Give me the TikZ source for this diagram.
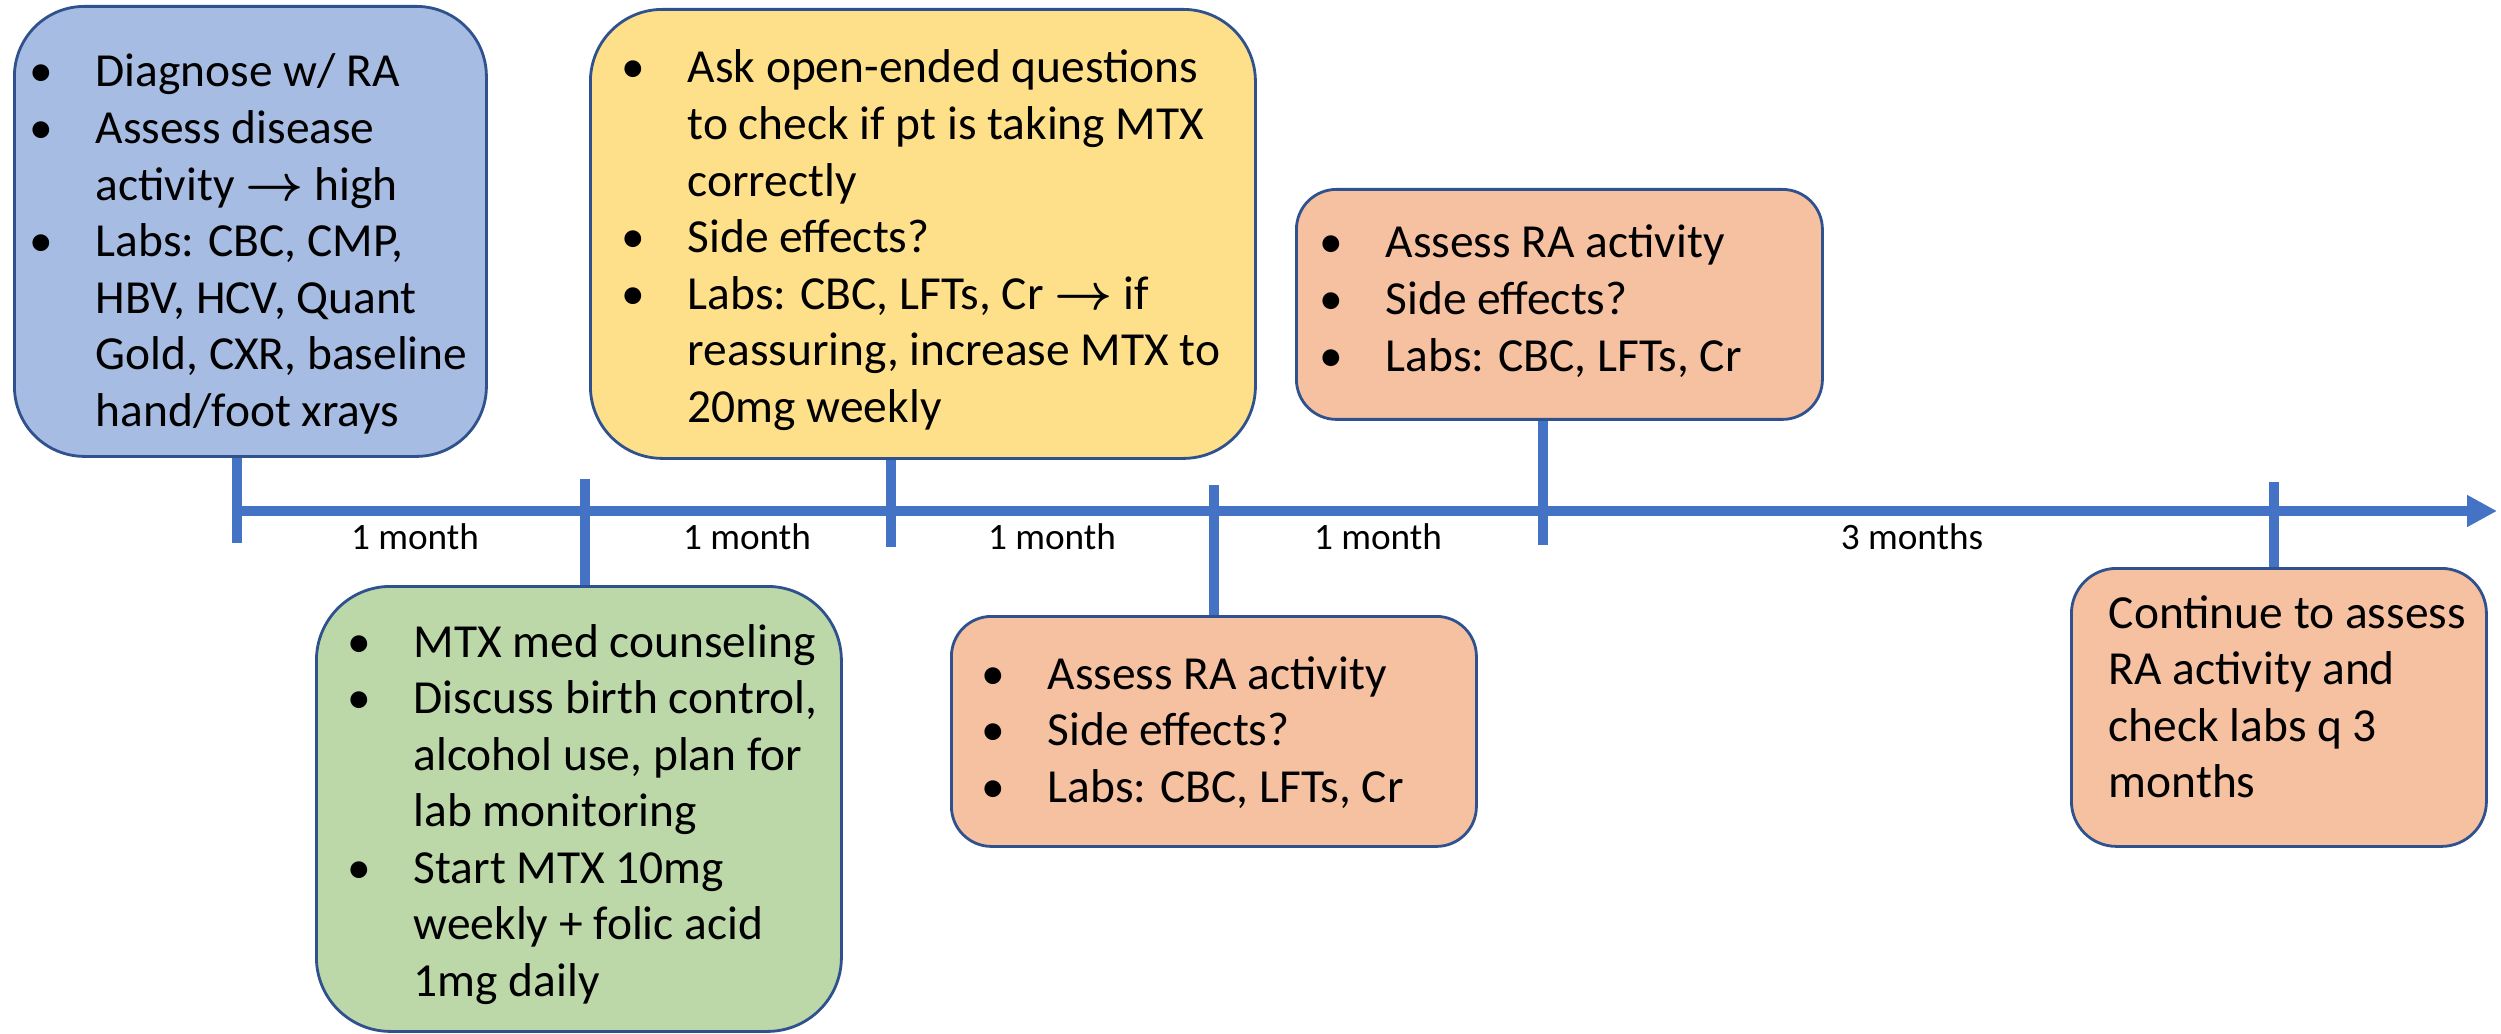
\documentclass[tikz,border=0pt]{standalone}
\usepackage{fontspec}
\setmainfont{Carlito}
\usetikzlibrary{arrows.meta}

\definecolor{boxline}{HTML}{2F528F}
\definecolor{axisblue}{HTML}{4472C4}
\definecolor{diagblue}{HTML}{A7BCE3}
\definecolor{checkyellow}{HTML}{FFE08A}
\definecolor{startgreen}{HTML}{BCD7A8}
\definecolor{followorange}{HTML}{F5C1A0}

\newcommand{\bul}{\llap{\makebox[1.08cm][c]{\textbullet}}}
\newcommand{\toarrow}{\mbox{\boldmath$\rightarrow$}}

\begin{document}
\begin{tikzpicture}[
    visit/.style={draw=boxline, line width=0.8pt, anchor=north west, inner sep=0pt},
    tick/.style={axisblue, line width=2.6pt},
    lab/.style={anchor=base, inner sep=0pt, font=\fontsize{10.6}{12}\selectfont},
    notes/.style={anchor=base west, inner sep=0pt, font=\fontsize{13.5}{16.1}\selectfont}]
    \useasboundingbox (0,0) rectangle (25.01,10.33);

    % boxes for each visit
    \node[visit, fill=diagblue, rounded corners=0.7cm, minimum width=4.72cm, minimum height=4.50cm] (diag) at (0.13,10.28) {};
    \node[visit, fill=checkyellow, rounded corners=0.72cm, minimum width=6.65cm, minimum height=4.49cm] (check) at (5.89,10.25) {};
    \node[visit, fill=startgreen, rounded corners=0.74cm, minimum width=5.25cm, minimum height=4.45cm] (start) at (3.15,4.48) {};
    \node[visit, fill=followorange, rounded corners=0.4cm, minimum width=5.25cm, minimum height=2.30cm] (follow1) at (9.50,4.18) {};
    \node[visit, fill=followorange, rounded corners=0.4cm, minimum width=5.26cm, minimum height=2.30cm] (follow2) at (12.95,8.45) {};
    \node[visit, fill=followorange, rounded corners=0.45cm, minimum width=4.15cm, minimum height=2.78cm] (follow3) at (20.70,4.66) {};

    % texts
    \node[notes] (diagtxt) at ([shift={(0.82,-0.82)}]diag.north west) {\begin{tabular}[t]{@{}l@{}}
        \bul Diagnose w/ RA\\
        \bul Assess disease\\
        activity \toarrow{} high\\
        \bul Labs: CBC, CMP,\\
        HBV, HCV, Quant\\
        Gold, CXR, baseline\\
        hand/foot xrays\end{tabular}};
    \node[notes] (checktxt) at ([shift={(0.98,-0.75)}]check.north west) {\begin{tabular}[t]{@{}l@{}}
        \bul Ask open-ended questions\\
        to check if pt is taking MTX\\
        correctly\\
        \bul Side effects?\\
        \bul Labs: CBC, LFTs, Cr \toarrow{} if\\
        reassuring, increase MTX to\\
        20mg weekly\end{tabular}};
    \node[notes] (starttxt) at ([shift={(0.98,-0.72)}]start.north west) {\begin{tabular}[t]{@{}l@{}}
        \bul MTX med counseling\\
        \bul Discuss birth control,\\
        alcohol use, plan for\\
        lab monitoring\\
        \bul Start MTX 10mg\\
        weekly + folic acid\\
        1mg daily\end{tabular}};
    \node[notes] (follow1txt) at ([shift={(0.97,-0.74)}]follow1.north west) {\begin{tabular}[t]{@{}l@{}}
        \bul Assess RA activity\\
        \bul Side effects?\\
        \bul Labs: CBC, LFTs, Cr\end{tabular}};
    \node[notes] (follow2txt) at ([shift={(0.90,-0.70)}]follow2.north west) {\begin{tabular}[t]{@{}l@{}}
        \bul Assess RA activity\\
        \bul Side effects?\\
        \bul Labs: CBC, LFTs, Cr\end{tabular}};
    \node[notes] (follow3txt) at ([shift={(0.38,-0.61)}]follow3.north west) {\begin{tabular}[t]{@{}l@{}}
        Continue to assess\\
        RA activity and\\
        check labs q 3\\
        months\end{tabular}};

    % time line
    \coordinate (axstart) at (2.37,5.22);
    \coordinate (axend) at (24.97,5.22);
    \draw[tick, -{Triangle[length=0.30cm, width=0.30cm]}] (axstart) -- (axend);

    \coordinate (t1) at (2.37,4.90);
    \coordinate (t2) at (5.85,5.54);
    \coordinate (t3) at (8.91,4.86);
    \coordinate (t4) at (12.14,5.48);
    \coordinate (t5) at (15.43,4.88);
    \coordinate (t6) at (22.74,5.51);
    \draw[tick] (diag.south -| t1) -- (t1);
    \draw[tick] (t2) -- (start.north -| t2);
    \draw[tick] (check.south -| t3) -- (t3);
    \draw[tick] (t4) -- (follow1.north -| t4);
    \draw[tick] (follow2.south -| t5) -- (t5);
    \draw[tick] (t6) -- (follow3.north -| t6);

    % intervals
    \node[lab] (gap1) at (4.15,4.84) {1 month};
    \node[lab] (gap2) at (7.47,4.84) {1 month};
    \node[lab] (gap3) at (10.52,4.84) {1 month};
    \node[lab] (gap4) at (13.78,4.84) {1 month};
    \node[lab] (gap5) at (19.12,4.84) {3 months};
\end{tikzpicture}
\end{document}
